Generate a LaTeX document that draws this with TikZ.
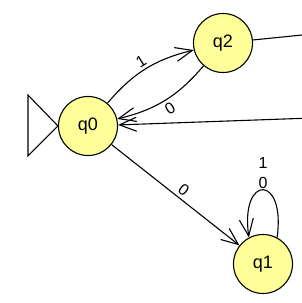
\documentclass[tikz,border=0pt]{standalone}
\usepackage{fontspec}
\setmainfont{Liberation Sans}
\usetikzlibrary{arrows.meta}
\definecolor{stfill}{RGB}{255,255,153}
\tikzset{
  state/.style={circle,draw,fill=stfill,line width=1.1pt,minimum size=59pt,inner sep=0pt,font=\fontsize{18}{21}\selectfont},
  lbl/.style={font=\fontsize{16}{20}\selectfont,inner sep=3pt},
  trans/.style={-{Straight Barb[length=17pt,width=14pt,line width=1.1pt]},line width=1.1pt}
}
\begin{document}
\begin{tikzpicture}[x=1pt,y=1pt]
\useasboundingbox (0,0) rectangle (302,303);
\node[state] (q0) at (88,177) {q0};
\node[state] (q2) at (223,260) {q2};
\node[state] (q1) at (263,39) {q1};

\coordinate (outq2) at (312,269);
\coordinate (inq0) at (312,185);

\draw[line width=1.1pt] (q0.west) -- ++(-30,31) -- ++(0,-61) -- cycle;

\draw[trans] (q0) to[bend left=18] node[lbl,sloped,above] {1} (q2);
\draw[trans] (q2) to[bend left=18] node[lbl,sloped,below] {0} (q0);
\draw[trans] (q0) -- node[lbl,sloped,above,pos=0.52] {0} (q1);
\draw[trans] (q1.62) .. controls +(82:64) and +(98:64) .. node[lbl,above,inner sep=1pt,align=center] {1\\0} (q1.118);

\draw[line width=1.1pt] (q2) -- (outq2);
\draw[trans] (inq0) -- (q0);
\end{tikzpicture}
\end{document}
